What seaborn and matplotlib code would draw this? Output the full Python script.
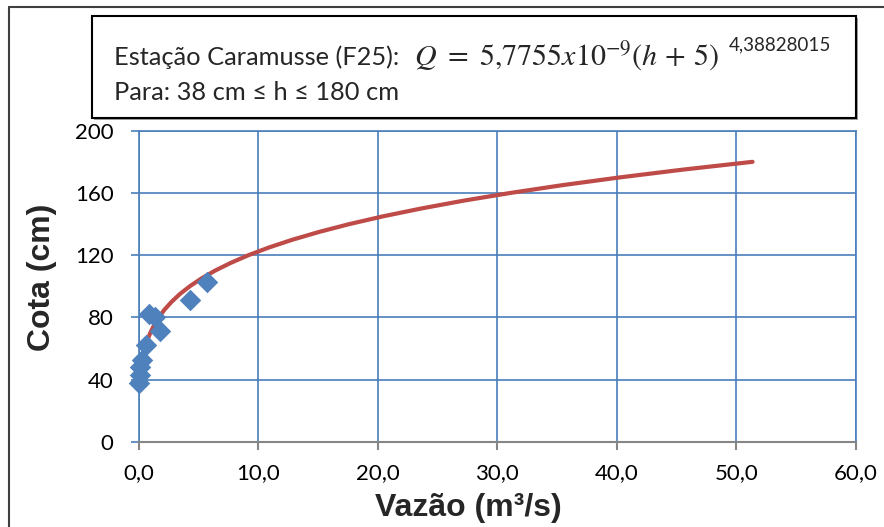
import matplotlib
matplotlib.use("Agg")
import matplotlib.pyplot as plt
from matplotlib.patches import Rectangle
from matplotlib.lines import Line2D
import seaborn as sns
import pandas as pd

# ---- data ----
Q_obs = [0.05, 0.10, 0.15, 0.30, 0.60, 0.90, 1.40, 1.80, 4.30, 5.70]
h_obs = [38, 43, 48, 53, 62, 82, 80, 71, 91, 103]

h_fit = [38, 45, 50, 55, 60, 65, 70, 75, 80, 85, 90, 95, 100, 105, 110, 115, 120,
         125, 130, 135, 140, 145, 150, 155, 160, 165, 170, 175, 180]
Q_fit = [0.09, 0.17, 0.25, 0.37, 0.52, 0.72, 0.98, 1.30, 1.69, 2.17, 2.76, 3.45,
         4.28, 5.25, 6.38, 7.69, 9.19, 10.92, 12.89, 15.12, 17.63, 20.46, 23.63,
         27.15, 31.09, 35.44, 40.25, 45.53, 51.35]

x_ticks = [0, 10, 20, 30, 40, 50, 60]
x_tick_labels = ["0,0", "10,0", "20,0", "30,0", "40,0", "50,0", "60,0"]
y_ticks = [0, 40, 80, 120, 160, 200]
y_tick_labels = ["0", "40", "80", "120", "160", "200"]

title_line1 = "Estação Caramusse (F25):"
equation = r"$Q\ =\ 5{,}7755x10^{-9}(h\,+\,5)$"
exponent = "4,38828015"
title_line2 = "Para: 38 cm ≤ h ≤ 180 cm"
x_label = "Vazão (m³/s)"
y_label = "Cota (cm)"

# ---- style ----
sns.set_style("white")
plt.rcParams["font.family"] = ["Lato", "DejaVu Sans"]
plt.rcParams["mathtext.fontset"] = "stix"

W, H = 884, 527
fig = plt.figure(figsize=(W / 100, H / 100), dpi=100)
fx = lambda px: px / W
fy = lambda py: 1 - py / H

left, right, top, bottom = 138.5, 856, 130.7, 442
ax = fig.add_axes([fx(left), fy(bottom), fx(right) - fx(left), fy(top) - fy(bottom)])

grid_blue = "#4A7EBB"
axis_gray = "#868686"

obs = pd.DataFrame({"Q": Q_obs, "h": h_obs})
fit = pd.DataFrame({"Q": Q_fit, "h": h_fit})

sns.lineplot(data=fit, x="Q", y="h", sort=False, color="#BE4B48", linewidth=3.0,
             solid_capstyle="round", solid_joinstyle="round", ax=ax, zorder=3)
sns.scatterplot(data=obs, x="Q", y="h", marker="D", s=120, color="#4F81BD",
                edgecolor="#4F81BD", linewidth=0, ax=ax, zorder=4, clip_on=False)

ax.set_xlim(0, 60)
ax.set_ylim(0, 200)
ax.set_xticks(x_ticks)
ax.set_xticklabels(x_tick_labels)
ax.set_yticks(y_ticks)
ax.set_yticklabels(y_tick_labels)
ax.set_axisbelow(True)
ax.grid(True, color=grid_blue, linewidth=1.2)

for s in ["left", "top", "right"]:
    ax.spines[s].set_color(grid_blue)
    ax.spines[s].set_linewidth(1.2)
ax.spines["bottom"].set_color(axis_gray)
ax.spines["bottom"].set_linewidth(1.5)
ax.spines["bottom"].set_zorder(2.5)

ax.tick_params(axis="y", direction="out", length=6, width=1.2, color=grid_blue,
               labelsize=16, labelcolor="black", pad=12, left=True)
ax.tick_params(axis="x", direction="out", length=6, width=1.5, color=axis_gray,
               labelsize=16, labelcolor="black", pad=9, bottom=True)

ax.set_xlabel("")
ax.set_ylabel("")
fig.text(fx(468), fy(508), x_label, ha="center", va="center",
         fontsize=23, fontweight="bold", family=["Liberation Sans", "DejaVu Sans"])
fig.text(fx(42), fy(277), y_label, ha="center", va="center", rotation=90,
         fontsize=23, fontweight="bold", family=["Liberation Sans", "DejaVu Sans"])

# ---- text box ----
bx0, bx1, by0, by1 = 92, 856, 16, 118
fig.patches.append(Rectangle((fx(bx0) + 2 / W, fy(by1) - 2 / H), fx(bx1) - fx(bx0),
                             fy(by0) - fy(by1), transform=fig.transFigure,
                             facecolor="#A0A0A0", edgecolor="none", zorder=0))
fig.patches.append(Rectangle((fx(bx0), fy(by1)), fx(bx1) - fx(bx0), fy(by0) - fy(by1),
                             transform=fig.transFigure, facecolor="white",
                             edgecolor="black", linewidth=1.5, zorder=1))

fig.text(fx(114), fy(65), title_line1, ha="left", va="baseline", fontsize=18.3, zorder=2)
fig.text(fx(414), fy(66), equation, ha="left", va="baseline", fontsize=21.6, zorder=2)
fig.text(fx(729), fy(50), exponent, ha="left", va="baseline", fontsize=13.5,
         family=["Lato", "DejaVu Sans"], zorder=2)
fig.text(fx(114), fy(100), title_line2, ha="left", va="baseline", fontsize=18.3, zorder=2)

# ---- outer frame (top and left edges visible) ----
fig.lines.append(Line2D([fx(9), 1.0], [fy(7), fy(7)], transform=fig.transFigure,
                        color="#404040", linewidth=1.5))
fig.lines.append(Line2D([fx(9), fx(9)], [fy(7), 0.0], transform=fig.transFigure,
                        color="#404040", linewidth=1.5))

fig.savefig("out.png", dpi=100)
